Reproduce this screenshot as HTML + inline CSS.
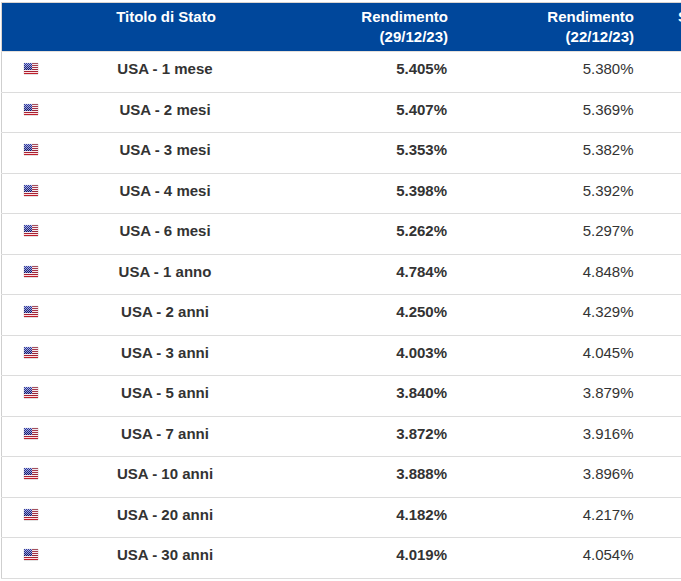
<!DOCTYPE html><html><head><meta charset="utf-8"><style>
*{margin:0;padding:0;box-sizing:border-box}
html,body{width:681px;height:581px;overflow:hidden;background:#fff}
body{position:relative;font-family:"Liberation Sans",sans-serif;font-size:15px;line-height:20px}
.a{position:absolute}
.hd{left:2px;top:3px;width:679px;height:48px;background:#00479b}
.ht{color:#fff;font-weight:bold;white-space:nowrap}
.hl{position:absolute;left:0;height:1px;width:681px}
.sep{background:#dcdcdc}
.vl{position:absolute;left:1px;width:1px;background:#cfcfcf}
.t{white-space:nowrap;color:#333}
.b{font-weight:bold}
.fl{position:absolute;left:23px}
</style></head><body>
<div class="a" style="left:1px;top:2px;width:680px;height:1px;background:#d9d4d0"></div>
<div class="a" style="left:1px;top:2px;width:1px;height:50px;background:#d9d4d0"></div>
<div class="a hd"></div>
<div class="a" style="left:1px;top:51px;width:680px;height:1px;background:#e6e0da"></div>
<div class="a ht" style="left:0;width:332px;top:7px;text-align:center">Titolo di Stato</div>
<div class="a ht" style="right:233px;top:7px;text-align:right">Rendimento<br>(29/12/23)</div>
<div class="a ht" style="right:47px;top:7px;text-align:right">Rendimento<br>(22/12/23)</div>
<div class="a" style="left:678px;top:7px;width:3px;height:20px;overflow:hidden"><div class="ht">Spread</div></div>
<div class="a" style="left:1px;top:52px;width:1px;height:527px;background:#cfcfcf"></div>
<div class="a sep" style="left:2px;top:92px;width:679px;height:1px"></div>
<div class="a" style="left:1px;top:92px;width:1px;height:1px;background:#e6e6e6"></div>
<div class="a" style="top:62px;left:0"><svg class="fl" width="16" height="13" viewBox="0 0 16 13" shape-rendering="crispEdges"><rect x="0" y="1" width="1" height="11" fill="#efefef"/><rect x="15" y="1" width="1" height="11" fill="#ececec"/><rect x="1" y="0" width="14" height="1" fill="#f6f6f6"/><rect x="1" y="12" width="14" height="1" fill="#e2e2e2"/><rect x="1" y="1" width="14" height="1" fill="#a4505e"/><rect x="1" y="2" width="14" height="1" fill="#f3e6ec"/><rect x="1" y="3" width="14" height="1" fill="#a63c4c"/><rect x="1" y="4" width="14" height="1" fill="#f6eaef"/><rect x="1" y="5" width="14" height="1" fill="#a43446"/><rect x="1" y="6" width="14" height="1" fill="#f6eaef"/><rect x="1" y="7" width="14" height="1" fill="#962a3a"/><rect x="1" y="8" width="14" height="1" fill="#f8eef2"/><rect x="1" y="9" width="14" height="1" fill="#a42232"/><rect x="1" y="10" width="14" height="1" fill="#fbdde1"/><rect x="1" y="11" width="14" height="1" fill="#bf1e2a"/><rect x="1" y="1" width="1" height="1" fill="#343c94"/><rect x="2" y="1" width="1" height="1" fill="#b0b8f2"/><rect x="3" y="1" width="1" height="1" fill="#343c94"/><rect x="4" y="1" width="1" height="1" fill="#b0b8f2"/><rect x="5" y="1" width="1" height="1" fill="#343c94"/><rect x="6" y="1" width="1" height="1" fill="#b0b8f2"/><rect x="7" y="1" width="1" height="1" fill="#343c94"/><rect x="8" y="1" width="1" height="1" fill="#b0b8f2"/><rect x="1" y="2" width="1" height="1" fill="#a9b1ed"/><rect x="2" y="2" width="1" height="1" fill="#2f368b"/><rect x="3" y="2" width="1" height="1" fill="#a9b1ed"/><rect x="4" y="2" width="1" height="1" fill="#2f368b"/><rect x="5" y="2" width="1" height="1" fill="#a9b1ed"/><rect x="6" y="2" width="1" height="1" fill="#2f368b"/><rect x="7" y="2" width="1" height="1" fill="#a9b1ed"/><rect x="8" y="2" width="1" height="1" fill="#2f368b"/><rect x="1" y="3" width="1" height="1" fill="#2a3181"/><rect x="2" y="3" width="1" height="1" fill="#a2aae8"/><rect x="3" y="3" width="1" height="1" fill="#2a3181"/><rect x="4" y="3" width="1" height="1" fill="#a2aae8"/><rect x="5" y="3" width="1" height="1" fill="#2a3181"/><rect x="6" y="3" width="1" height="1" fill="#a2aae8"/><rect x="7" y="3" width="1" height="1" fill="#2a3181"/><rect x="8" y="3" width="1" height="1" fill="#a2aae8"/><rect x="1" y="4" width="1" height="1" fill="#9ba3e3"/><rect x="2" y="4" width="1" height="1" fill="#252b78"/><rect x="3" y="4" width="1" height="1" fill="#9ba3e3"/><rect x="4" y="4" width="1" height="1" fill="#252b78"/><rect x="5" y="4" width="1" height="1" fill="#9ba3e3"/><rect x="6" y="4" width="1" height="1" fill="#252b78"/><rect x="7" y="4" width="1" height="1" fill="#9ba3e3"/><rect x="8" y="4" width="1" height="1" fill="#252b78"/><rect x="1" y="5" width="1" height="1" fill="#20256f"/><rect x="2" y="5" width="1" height="1" fill="#949cde"/><rect x="3" y="5" width="1" height="1" fill="#20256f"/><rect x="4" y="5" width="1" height="1" fill="#949cde"/><rect x="5" y="5" width="1" height="1" fill="#20256f"/><rect x="6" y="5" width="1" height="1" fill="#949cde"/><rect x="7" y="5" width="1" height="1" fill="#20256f"/><rect x="8" y="5" width="1" height="1" fill="#949cde"/><rect x="1" y="6" width="1" height="1" fill="#8d95d9"/><rect x="2" y="6" width="1" height="1" fill="#1b2065"/><rect x="3" y="6" width="1" height="1" fill="#8d95d9"/><rect x="4" y="6" width="1" height="1" fill="#1b2065"/><rect x="5" y="6" width="1" height="1" fill="#8d95d9"/><rect x="6" y="6" width="1" height="1" fill="#1b2065"/><rect x="7" y="6" width="1" height="1" fill="#8d95d9"/><rect x="8" y="6" width="1" height="1" fill="#1b2065"/><rect x="1" y="7" width="1" height="1" fill="#161a5c"/><rect x="2" y="7" width="1" height="1" fill="#868ed4"/><rect x="3" y="7" width="1" height="1" fill="#161a5c"/><rect x="4" y="7" width="1" height="1" fill="#868ed4"/><rect x="5" y="7" width="1" height="1" fill="#161a5c"/><rect x="6" y="7" width="1" height="1" fill="#868ed4"/><rect x="7" y="7" width="1" height="1" fill="#161a5c"/><rect x="8" y="7" width="1" height="1" fill="#868ed4"/></svg></div>
<div class="a t b" style="left:-1px;width:332px;text-align:center;top:59px">USA - 1 mese</div>
<div class="a t b" style="right:234px;text-align:right;top:59px">5.405%</div>
<div class="a t" style="right:47.5px;text-align:right;top:59px">5.380%</div>
<div class="a sep" style="left:2px;top:132px;width:679px;height:1px"></div>
<div class="a" style="left:1px;top:132px;width:1px;height:1px;background:#e6e6e6"></div>
<div class="a" style="top:103px;left:0"><svg class="fl" width="16" height="13" viewBox="0 0 16 13" shape-rendering="crispEdges"><rect x="0" y="1" width="1" height="11" fill="#efefef"/><rect x="15" y="1" width="1" height="11" fill="#ececec"/><rect x="1" y="0" width="14" height="1" fill="#f6f6f6"/><rect x="1" y="12" width="14" height="1" fill="#e2e2e2"/><rect x="1" y="1" width="14" height="1" fill="#a4505e"/><rect x="1" y="2" width="14" height="1" fill="#f3e6ec"/><rect x="1" y="3" width="14" height="1" fill="#a63c4c"/><rect x="1" y="4" width="14" height="1" fill="#f6eaef"/><rect x="1" y="5" width="14" height="1" fill="#a43446"/><rect x="1" y="6" width="14" height="1" fill="#f6eaef"/><rect x="1" y="7" width="14" height="1" fill="#962a3a"/><rect x="1" y="8" width="14" height="1" fill="#f8eef2"/><rect x="1" y="9" width="14" height="1" fill="#a42232"/><rect x="1" y="10" width="14" height="1" fill="#fbdde1"/><rect x="1" y="11" width="14" height="1" fill="#bf1e2a"/><rect x="1" y="1" width="1" height="1" fill="#343c94"/><rect x="2" y="1" width="1" height="1" fill="#b0b8f2"/><rect x="3" y="1" width="1" height="1" fill="#343c94"/><rect x="4" y="1" width="1" height="1" fill="#b0b8f2"/><rect x="5" y="1" width="1" height="1" fill="#343c94"/><rect x="6" y="1" width="1" height="1" fill="#b0b8f2"/><rect x="7" y="1" width="1" height="1" fill="#343c94"/><rect x="8" y="1" width="1" height="1" fill="#b0b8f2"/><rect x="1" y="2" width="1" height="1" fill="#a9b1ed"/><rect x="2" y="2" width="1" height="1" fill="#2f368b"/><rect x="3" y="2" width="1" height="1" fill="#a9b1ed"/><rect x="4" y="2" width="1" height="1" fill="#2f368b"/><rect x="5" y="2" width="1" height="1" fill="#a9b1ed"/><rect x="6" y="2" width="1" height="1" fill="#2f368b"/><rect x="7" y="2" width="1" height="1" fill="#a9b1ed"/><rect x="8" y="2" width="1" height="1" fill="#2f368b"/><rect x="1" y="3" width="1" height="1" fill="#2a3181"/><rect x="2" y="3" width="1" height="1" fill="#a2aae8"/><rect x="3" y="3" width="1" height="1" fill="#2a3181"/><rect x="4" y="3" width="1" height="1" fill="#a2aae8"/><rect x="5" y="3" width="1" height="1" fill="#2a3181"/><rect x="6" y="3" width="1" height="1" fill="#a2aae8"/><rect x="7" y="3" width="1" height="1" fill="#2a3181"/><rect x="8" y="3" width="1" height="1" fill="#a2aae8"/><rect x="1" y="4" width="1" height="1" fill="#9ba3e3"/><rect x="2" y="4" width="1" height="1" fill="#252b78"/><rect x="3" y="4" width="1" height="1" fill="#9ba3e3"/><rect x="4" y="4" width="1" height="1" fill="#252b78"/><rect x="5" y="4" width="1" height="1" fill="#9ba3e3"/><rect x="6" y="4" width="1" height="1" fill="#252b78"/><rect x="7" y="4" width="1" height="1" fill="#9ba3e3"/><rect x="8" y="4" width="1" height="1" fill="#252b78"/><rect x="1" y="5" width="1" height="1" fill="#20256f"/><rect x="2" y="5" width="1" height="1" fill="#949cde"/><rect x="3" y="5" width="1" height="1" fill="#20256f"/><rect x="4" y="5" width="1" height="1" fill="#949cde"/><rect x="5" y="5" width="1" height="1" fill="#20256f"/><rect x="6" y="5" width="1" height="1" fill="#949cde"/><rect x="7" y="5" width="1" height="1" fill="#20256f"/><rect x="8" y="5" width="1" height="1" fill="#949cde"/><rect x="1" y="6" width="1" height="1" fill="#8d95d9"/><rect x="2" y="6" width="1" height="1" fill="#1b2065"/><rect x="3" y="6" width="1" height="1" fill="#8d95d9"/><rect x="4" y="6" width="1" height="1" fill="#1b2065"/><rect x="5" y="6" width="1" height="1" fill="#8d95d9"/><rect x="6" y="6" width="1" height="1" fill="#1b2065"/><rect x="7" y="6" width="1" height="1" fill="#8d95d9"/><rect x="8" y="6" width="1" height="1" fill="#1b2065"/><rect x="1" y="7" width="1" height="1" fill="#161a5c"/><rect x="2" y="7" width="1" height="1" fill="#868ed4"/><rect x="3" y="7" width="1" height="1" fill="#161a5c"/><rect x="4" y="7" width="1" height="1" fill="#868ed4"/><rect x="5" y="7" width="1" height="1" fill="#161a5c"/><rect x="6" y="7" width="1" height="1" fill="#868ed4"/><rect x="7" y="7" width="1" height="1" fill="#161a5c"/><rect x="8" y="7" width="1" height="1" fill="#868ed4"/></svg></div>
<div class="a t b" style="left:-1px;width:332px;text-align:center;top:100px">USA - 2 mesi</div>
<div class="a t b" style="right:234px;text-align:right;top:100px">5.407%</div>
<div class="a t" style="right:47.5px;text-align:right;top:100px">5.369%</div>
<div class="a sep" style="left:2px;top:173px;width:679px;height:1px"></div>
<div class="a" style="left:1px;top:173px;width:1px;height:1px;background:#e6e6e6"></div>
<div class="a" style="top:143px;left:0"><svg class="fl" width="16" height="13" viewBox="0 0 16 13" shape-rendering="crispEdges"><rect x="0" y="1" width="1" height="11" fill="#efefef"/><rect x="15" y="1" width="1" height="11" fill="#ececec"/><rect x="1" y="0" width="14" height="1" fill="#f6f6f6"/><rect x="1" y="12" width="14" height="1" fill="#e2e2e2"/><rect x="1" y="1" width="14" height="1" fill="#a4505e"/><rect x="1" y="2" width="14" height="1" fill="#f3e6ec"/><rect x="1" y="3" width="14" height="1" fill="#a63c4c"/><rect x="1" y="4" width="14" height="1" fill="#f6eaef"/><rect x="1" y="5" width="14" height="1" fill="#a43446"/><rect x="1" y="6" width="14" height="1" fill="#f6eaef"/><rect x="1" y="7" width="14" height="1" fill="#962a3a"/><rect x="1" y="8" width="14" height="1" fill="#f8eef2"/><rect x="1" y="9" width="14" height="1" fill="#a42232"/><rect x="1" y="10" width="14" height="1" fill="#fbdde1"/><rect x="1" y="11" width="14" height="1" fill="#bf1e2a"/><rect x="1" y="1" width="1" height="1" fill="#343c94"/><rect x="2" y="1" width="1" height="1" fill="#b0b8f2"/><rect x="3" y="1" width="1" height="1" fill="#343c94"/><rect x="4" y="1" width="1" height="1" fill="#b0b8f2"/><rect x="5" y="1" width="1" height="1" fill="#343c94"/><rect x="6" y="1" width="1" height="1" fill="#b0b8f2"/><rect x="7" y="1" width="1" height="1" fill="#343c94"/><rect x="8" y="1" width="1" height="1" fill="#b0b8f2"/><rect x="1" y="2" width="1" height="1" fill="#a9b1ed"/><rect x="2" y="2" width="1" height="1" fill="#2f368b"/><rect x="3" y="2" width="1" height="1" fill="#a9b1ed"/><rect x="4" y="2" width="1" height="1" fill="#2f368b"/><rect x="5" y="2" width="1" height="1" fill="#a9b1ed"/><rect x="6" y="2" width="1" height="1" fill="#2f368b"/><rect x="7" y="2" width="1" height="1" fill="#a9b1ed"/><rect x="8" y="2" width="1" height="1" fill="#2f368b"/><rect x="1" y="3" width="1" height="1" fill="#2a3181"/><rect x="2" y="3" width="1" height="1" fill="#a2aae8"/><rect x="3" y="3" width="1" height="1" fill="#2a3181"/><rect x="4" y="3" width="1" height="1" fill="#a2aae8"/><rect x="5" y="3" width="1" height="1" fill="#2a3181"/><rect x="6" y="3" width="1" height="1" fill="#a2aae8"/><rect x="7" y="3" width="1" height="1" fill="#2a3181"/><rect x="8" y="3" width="1" height="1" fill="#a2aae8"/><rect x="1" y="4" width="1" height="1" fill="#9ba3e3"/><rect x="2" y="4" width="1" height="1" fill="#252b78"/><rect x="3" y="4" width="1" height="1" fill="#9ba3e3"/><rect x="4" y="4" width="1" height="1" fill="#252b78"/><rect x="5" y="4" width="1" height="1" fill="#9ba3e3"/><rect x="6" y="4" width="1" height="1" fill="#252b78"/><rect x="7" y="4" width="1" height="1" fill="#9ba3e3"/><rect x="8" y="4" width="1" height="1" fill="#252b78"/><rect x="1" y="5" width="1" height="1" fill="#20256f"/><rect x="2" y="5" width="1" height="1" fill="#949cde"/><rect x="3" y="5" width="1" height="1" fill="#20256f"/><rect x="4" y="5" width="1" height="1" fill="#949cde"/><rect x="5" y="5" width="1" height="1" fill="#20256f"/><rect x="6" y="5" width="1" height="1" fill="#949cde"/><rect x="7" y="5" width="1" height="1" fill="#20256f"/><rect x="8" y="5" width="1" height="1" fill="#949cde"/><rect x="1" y="6" width="1" height="1" fill="#8d95d9"/><rect x="2" y="6" width="1" height="1" fill="#1b2065"/><rect x="3" y="6" width="1" height="1" fill="#8d95d9"/><rect x="4" y="6" width="1" height="1" fill="#1b2065"/><rect x="5" y="6" width="1" height="1" fill="#8d95d9"/><rect x="6" y="6" width="1" height="1" fill="#1b2065"/><rect x="7" y="6" width="1" height="1" fill="#8d95d9"/><rect x="8" y="6" width="1" height="1" fill="#1b2065"/><rect x="1" y="7" width="1" height="1" fill="#161a5c"/><rect x="2" y="7" width="1" height="1" fill="#868ed4"/><rect x="3" y="7" width="1" height="1" fill="#161a5c"/><rect x="4" y="7" width="1" height="1" fill="#868ed4"/><rect x="5" y="7" width="1" height="1" fill="#161a5c"/><rect x="6" y="7" width="1" height="1" fill="#868ed4"/><rect x="7" y="7" width="1" height="1" fill="#161a5c"/><rect x="8" y="7" width="1" height="1" fill="#868ed4"/></svg></div>
<div class="a t b" style="left:-1px;width:332px;text-align:center;top:140px">USA - 3 mesi</div>
<div class="a t b" style="right:234px;text-align:right;top:140px">5.353%</div>
<div class="a t" style="right:47.5px;text-align:right;top:140px">5.382%</div>
<div class="a sep" style="left:2px;top:213px;width:679px;height:1px"></div>
<div class="a" style="left:1px;top:213px;width:1px;height:1px;background:#e6e6e6"></div>
<div class="a" style="top:184px;left:0"><svg class="fl" width="16" height="13" viewBox="0 0 16 13" shape-rendering="crispEdges"><rect x="0" y="1" width="1" height="11" fill="#efefef"/><rect x="15" y="1" width="1" height="11" fill="#ececec"/><rect x="1" y="0" width="14" height="1" fill="#f6f6f6"/><rect x="1" y="12" width="14" height="1" fill="#e2e2e2"/><rect x="1" y="1" width="14" height="1" fill="#a4505e"/><rect x="1" y="2" width="14" height="1" fill="#f3e6ec"/><rect x="1" y="3" width="14" height="1" fill="#a63c4c"/><rect x="1" y="4" width="14" height="1" fill="#f6eaef"/><rect x="1" y="5" width="14" height="1" fill="#a43446"/><rect x="1" y="6" width="14" height="1" fill="#f6eaef"/><rect x="1" y="7" width="14" height="1" fill="#962a3a"/><rect x="1" y="8" width="14" height="1" fill="#f8eef2"/><rect x="1" y="9" width="14" height="1" fill="#a42232"/><rect x="1" y="10" width="14" height="1" fill="#fbdde1"/><rect x="1" y="11" width="14" height="1" fill="#bf1e2a"/><rect x="1" y="1" width="1" height="1" fill="#343c94"/><rect x="2" y="1" width="1" height="1" fill="#b0b8f2"/><rect x="3" y="1" width="1" height="1" fill="#343c94"/><rect x="4" y="1" width="1" height="1" fill="#b0b8f2"/><rect x="5" y="1" width="1" height="1" fill="#343c94"/><rect x="6" y="1" width="1" height="1" fill="#b0b8f2"/><rect x="7" y="1" width="1" height="1" fill="#343c94"/><rect x="8" y="1" width="1" height="1" fill="#b0b8f2"/><rect x="1" y="2" width="1" height="1" fill="#a9b1ed"/><rect x="2" y="2" width="1" height="1" fill="#2f368b"/><rect x="3" y="2" width="1" height="1" fill="#a9b1ed"/><rect x="4" y="2" width="1" height="1" fill="#2f368b"/><rect x="5" y="2" width="1" height="1" fill="#a9b1ed"/><rect x="6" y="2" width="1" height="1" fill="#2f368b"/><rect x="7" y="2" width="1" height="1" fill="#a9b1ed"/><rect x="8" y="2" width="1" height="1" fill="#2f368b"/><rect x="1" y="3" width="1" height="1" fill="#2a3181"/><rect x="2" y="3" width="1" height="1" fill="#a2aae8"/><rect x="3" y="3" width="1" height="1" fill="#2a3181"/><rect x="4" y="3" width="1" height="1" fill="#a2aae8"/><rect x="5" y="3" width="1" height="1" fill="#2a3181"/><rect x="6" y="3" width="1" height="1" fill="#a2aae8"/><rect x="7" y="3" width="1" height="1" fill="#2a3181"/><rect x="8" y="3" width="1" height="1" fill="#a2aae8"/><rect x="1" y="4" width="1" height="1" fill="#9ba3e3"/><rect x="2" y="4" width="1" height="1" fill="#252b78"/><rect x="3" y="4" width="1" height="1" fill="#9ba3e3"/><rect x="4" y="4" width="1" height="1" fill="#252b78"/><rect x="5" y="4" width="1" height="1" fill="#9ba3e3"/><rect x="6" y="4" width="1" height="1" fill="#252b78"/><rect x="7" y="4" width="1" height="1" fill="#9ba3e3"/><rect x="8" y="4" width="1" height="1" fill="#252b78"/><rect x="1" y="5" width="1" height="1" fill="#20256f"/><rect x="2" y="5" width="1" height="1" fill="#949cde"/><rect x="3" y="5" width="1" height="1" fill="#20256f"/><rect x="4" y="5" width="1" height="1" fill="#949cde"/><rect x="5" y="5" width="1" height="1" fill="#20256f"/><rect x="6" y="5" width="1" height="1" fill="#949cde"/><rect x="7" y="5" width="1" height="1" fill="#20256f"/><rect x="8" y="5" width="1" height="1" fill="#949cde"/><rect x="1" y="6" width="1" height="1" fill="#8d95d9"/><rect x="2" y="6" width="1" height="1" fill="#1b2065"/><rect x="3" y="6" width="1" height="1" fill="#8d95d9"/><rect x="4" y="6" width="1" height="1" fill="#1b2065"/><rect x="5" y="6" width="1" height="1" fill="#8d95d9"/><rect x="6" y="6" width="1" height="1" fill="#1b2065"/><rect x="7" y="6" width="1" height="1" fill="#8d95d9"/><rect x="8" y="6" width="1" height="1" fill="#1b2065"/><rect x="1" y="7" width="1" height="1" fill="#161a5c"/><rect x="2" y="7" width="1" height="1" fill="#868ed4"/><rect x="3" y="7" width="1" height="1" fill="#161a5c"/><rect x="4" y="7" width="1" height="1" fill="#868ed4"/><rect x="5" y="7" width="1" height="1" fill="#161a5c"/><rect x="6" y="7" width="1" height="1" fill="#868ed4"/><rect x="7" y="7" width="1" height="1" fill="#161a5c"/><rect x="8" y="7" width="1" height="1" fill="#868ed4"/></svg></div>
<div class="a t b" style="left:-1px;width:332px;text-align:center;top:181px">USA - 4 mesi</div>
<div class="a t b" style="right:234px;text-align:right;top:181px">5.398%</div>
<div class="a t" style="right:47.5px;text-align:right;top:181px">5.392%</div>
<div class="a sep" style="left:2px;top:254px;width:679px;height:1px"></div>
<div class="a" style="left:1px;top:254px;width:1px;height:1px;background:#e6e6e6"></div>
<div class="a" style="top:224px;left:0"><svg class="fl" width="16" height="13" viewBox="0 0 16 13" shape-rendering="crispEdges"><rect x="0" y="1" width="1" height="11" fill="#efefef"/><rect x="15" y="1" width="1" height="11" fill="#ececec"/><rect x="1" y="0" width="14" height="1" fill="#f6f6f6"/><rect x="1" y="12" width="14" height="1" fill="#e2e2e2"/><rect x="1" y="1" width="14" height="1" fill="#a4505e"/><rect x="1" y="2" width="14" height="1" fill="#f3e6ec"/><rect x="1" y="3" width="14" height="1" fill="#a63c4c"/><rect x="1" y="4" width="14" height="1" fill="#f6eaef"/><rect x="1" y="5" width="14" height="1" fill="#a43446"/><rect x="1" y="6" width="14" height="1" fill="#f6eaef"/><rect x="1" y="7" width="14" height="1" fill="#962a3a"/><rect x="1" y="8" width="14" height="1" fill="#f8eef2"/><rect x="1" y="9" width="14" height="1" fill="#a42232"/><rect x="1" y="10" width="14" height="1" fill="#fbdde1"/><rect x="1" y="11" width="14" height="1" fill="#bf1e2a"/><rect x="1" y="1" width="1" height="1" fill="#343c94"/><rect x="2" y="1" width="1" height="1" fill="#b0b8f2"/><rect x="3" y="1" width="1" height="1" fill="#343c94"/><rect x="4" y="1" width="1" height="1" fill="#b0b8f2"/><rect x="5" y="1" width="1" height="1" fill="#343c94"/><rect x="6" y="1" width="1" height="1" fill="#b0b8f2"/><rect x="7" y="1" width="1" height="1" fill="#343c94"/><rect x="8" y="1" width="1" height="1" fill="#b0b8f2"/><rect x="1" y="2" width="1" height="1" fill="#a9b1ed"/><rect x="2" y="2" width="1" height="1" fill="#2f368b"/><rect x="3" y="2" width="1" height="1" fill="#a9b1ed"/><rect x="4" y="2" width="1" height="1" fill="#2f368b"/><rect x="5" y="2" width="1" height="1" fill="#a9b1ed"/><rect x="6" y="2" width="1" height="1" fill="#2f368b"/><rect x="7" y="2" width="1" height="1" fill="#a9b1ed"/><rect x="8" y="2" width="1" height="1" fill="#2f368b"/><rect x="1" y="3" width="1" height="1" fill="#2a3181"/><rect x="2" y="3" width="1" height="1" fill="#a2aae8"/><rect x="3" y="3" width="1" height="1" fill="#2a3181"/><rect x="4" y="3" width="1" height="1" fill="#a2aae8"/><rect x="5" y="3" width="1" height="1" fill="#2a3181"/><rect x="6" y="3" width="1" height="1" fill="#a2aae8"/><rect x="7" y="3" width="1" height="1" fill="#2a3181"/><rect x="8" y="3" width="1" height="1" fill="#a2aae8"/><rect x="1" y="4" width="1" height="1" fill="#9ba3e3"/><rect x="2" y="4" width="1" height="1" fill="#252b78"/><rect x="3" y="4" width="1" height="1" fill="#9ba3e3"/><rect x="4" y="4" width="1" height="1" fill="#252b78"/><rect x="5" y="4" width="1" height="1" fill="#9ba3e3"/><rect x="6" y="4" width="1" height="1" fill="#252b78"/><rect x="7" y="4" width="1" height="1" fill="#9ba3e3"/><rect x="8" y="4" width="1" height="1" fill="#252b78"/><rect x="1" y="5" width="1" height="1" fill="#20256f"/><rect x="2" y="5" width="1" height="1" fill="#949cde"/><rect x="3" y="5" width="1" height="1" fill="#20256f"/><rect x="4" y="5" width="1" height="1" fill="#949cde"/><rect x="5" y="5" width="1" height="1" fill="#20256f"/><rect x="6" y="5" width="1" height="1" fill="#949cde"/><rect x="7" y="5" width="1" height="1" fill="#20256f"/><rect x="8" y="5" width="1" height="1" fill="#949cde"/><rect x="1" y="6" width="1" height="1" fill="#8d95d9"/><rect x="2" y="6" width="1" height="1" fill="#1b2065"/><rect x="3" y="6" width="1" height="1" fill="#8d95d9"/><rect x="4" y="6" width="1" height="1" fill="#1b2065"/><rect x="5" y="6" width="1" height="1" fill="#8d95d9"/><rect x="6" y="6" width="1" height="1" fill="#1b2065"/><rect x="7" y="6" width="1" height="1" fill="#8d95d9"/><rect x="8" y="6" width="1" height="1" fill="#1b2065"/><rect x="1" y="7" width="1" height="1" fill="#161a5c"/><rect x="2" y="7" width="1" height="1" fill="#868ed4"/><rect x="3" y="7" width="1" height="1" fill="#161a5c"/><rect x="4" y="7" width="1" height="1" fill="#868ed4"/><rect x="5" y="7" width="1" height="1" fill="#161a5c"/><rect x="6" y="7" width="1" height="1" fill="#868ed4"/><rect x="7" y="7" width="1" height="1" fill="#161a5c"/><rect x="8" y="7" width="1" height="1" fill="#868ed4"/></svg></div>
<div class="a t b" style="left:-1px;width:332px;text-align:center;top:221px">USA - 6 mesi</div>
<div class="a t b" style="right:234px;text-align:right;top:221px">5.262%</div>
<div class="a t" style="right:47.5px;text-align:right;top:221px">5.297%</div>
<div class="a sep" style="left:2px;top:294px;width:679px;height:1px"></div>
<div class="a" style="left:1px;top:294px;width:1px;height:1px;background:#e6e6e6"></div>
<div class="a" style="top:265px;left:0"><svg class="fl" width="16" height="13" viewBox="0 0 16 13" shape-rendering="crispEdges"><rect x="0" y="1" width="1" height="11" fill="#efefef"/><rect x="15" y="1" width="1" height="11" fill="#ececec"/><rect x="1" y="0" width="14" height="1" fill="#f6f6f6"/><rect x="1" y="12" width="14" height="1" fill="#e2e2e2"/><rect x="1" y="1" width="14" height="1" fill="#a4505e"/><rect x="1" y="2" width="14" height="1" fill="#f3e6ec"/><rect x="1" y="3" width="14" height="1" fill="#a63c4c"/><rect x="1" y="4" width="14" height="1" fill="#f6eaef"/><rect x="1" y="5" width="14" height="1" fill="#a43446"/><rect x="1" y="6" width="14" height="1" fill="#f6eaef"/><rect x="1" y="7" width="14" height="1" fill="#962a3a"/><rect x="1" y="8" width="14" height="1" fill="#f8eef2"/><rect x="1" y="9" width="14" height="1" fill="#a42232"/><rect x="1" y="10" width="14" height="1" fill="#fbdde1"/><rect x="1" y="11" width="14" height="1" fill="#bf1e2a"/><rect x="1" y="1" width="1" height="1" fill="#343c94"/><rect x="2" y="1" width="1" height="1" fill="#b0b8f2"/><rect x="3" y="1" width="1" height="1" fill="#343c94"/><rect x="4" y="1" width="1" height="1" fill="#b0b8f2"/><rect x="5" y="1" width="1" height="1" fill="#343c94"/><rect x="6" y="1" width="1" height="1" fill="#b0b8f2"/><rect x="7" y="1" width="1" height="1" fill="#343c94"/><rect x="8" y="1" width="1" height="1" fill="#b0b8f2"/><rect x="1" y="2" width="1" height="1" fill="#a9b1ed"/><rect x="2" y="2" width="1" height="1" fill="#2f368b"/><rect x="3" y="2" width="1" height="1" fill="#a9b1ed"/><rect x="4" y="2" width="1" height="1" fill="#2f368b"/><rect x="5" y="2" width="1" height="1" fill="#a9b1ed"/><rect x="6" y="2" width="1" height="1" fill="#2f368b"/><rect x="7" y="2" width="1" height="1" fill="#a9b1ed"/><rect x="8" y="2" width="1" height="1" fill="#2f368b"/><rect x="1" y="3" width="1" height="1" fill="#2a3181"/><rect x="2" y="3" width="1" height="1" fill="#a2aae8"/><rect x="3" y="3" width="1" height="1" fill="#2a3181"/><rect x="4" y="3" width="1" height="1" fill="#a2aae8"/><rect x="5" y="3" width="1" height="1" fill="#2a3181"/><rect x="6" y="3" width="1" height="1" fill="#a2aae8"/><rect x="7" y="3" width="1" height="1" fill="#2a3181"/><rect x="8" y="3" width="1" height="1" fill="#a2aae8"/><rect x="1" y="4" width="1" height="1" fill="#9ba3e3"/><rect x="2" y="4" width="1" height="1" fill="#252b78"/><rect x="3" y="4" width="1" height="1" fill="#9ba3e3"/><rect x="4" y="4" width="1" height="1" fill="#252b78"/><rect x="5" y="4" width="1" height="1" fill="#9ba3e3"/><rect x="6" y="4" width="1" height="1" fill="#252b78"/><rect x="7" y="4" width="1" height="1" fill="#9ba3e3"/><rect x="8" y="4" width="1" height="1" fill="#252b78"/><rect x="1" y="5" width="1" height="1" fill="#20256f"/><rect x="2" y="5" width="1" height="1" fill="#949cde"/><rect x="3" y="5" width="1" height="1" fill="#20256f"/><rect x="4" y="5" width="1" height="1" fill="#949cde"/><rect x="5" y="5" width="1" height="1" fill="#20256f"/><rect x="6" y="5" width="1" height="1" fill="#949cde"/><rect x="7" y="5" width="1" height="1" fill="#20256f"/><rect x="8" y="5" width="1" height="1" fill="#949cde"/><rect x="1" y="6" width="1" height="1" fill="#8d95d9"/><rect x="2" y="6" width="1" height="1" fill="#1b2065"/><rect x="3" y="6" width="1" height="1" fill="#8d95d9"/><rect x="4" y="6" width="1" height="1" fill="#1b2065"/><rect x="5" y="6" width="1" height="1" fill="#8d95d9"/><rect x="6" y="6" width="1" height="1" fill="#1b2065"/><rect x="7" y="6" width="1" height="1" fill="#8d95d9"/><rect x="8" y="6" width="1" height="1" fill="#1b2065"/><rect x="1" y="7" width="1" height="1" fill="#161a5c"/><rect x="2" y="7" width="1" height="1" fill="#868ed4"/><rect x="3" y="7" width="1" height="1" fill="#161a5c"/><rect x="4" y="7" width="1" height="1" fill="#868ed4"/><rect x="5" y="7" width="1" height="1" fill="#161a5c"/><rect x="6" y="7" width="1" height="1" fill="#868ed4"/><rect x="7" y="7" width="1" height="1" fill="#161a5c"/><rect x="8" y="7" width="1" height="1" fill="#868ed4"/></svg></div>
<div class="a t b" style="left:-1px;width:332px;text-align:center;top:262px">USA - 1 anno</div>
<div class="a t b" style="right:234px;text-align:right;top:262px">4.784%</div>
<div class="a t" style="right:47.5px;text-align:right;top:262px">4.848%</div>
<div class="a sep" style="left:2px;top:335px;width:679px;height:1px"></div>
<div class="a" style="left:1px;top:335px;width:1px;height:1px;background:#e6e6e6"></div>
<div class="a" style="top:305px;left:0"><svg class="fl" width="16" height="13" viewBox="0 0 16 13" shape-rendering="crispEdges"><rect x="0" y="1" width="1" height="11" fill="#efefef"/><rect x="15" y="1" width="1" height="11" fill="#ececec"/><rect x="1" y="0" width="14" height="1" fill="#f6f6f6"/><rect x="1" y="12" width="14" height="1" fill="#e2e2e2"/><rect x="1" y="1" width="14" height="1" fill="#a4505e"/><rect x="1" y="2" width="14" height="1" fill="#f3e6ec"/><rect x="1" y="3" width="14" height="1" fill="#a63c4c"/><rect x="1" y="4" width="14" height="1" fill="#f6eaef"/><rect x="1" y="5" width="14" height="1" fill="#a43446"/><rect x="1" y="6" width="14" height="1" fill="#f6eaef"/><rect x="1" y="7" width="14" height="1" fill="#962a3a"/><rect x="1" y="8" width="14" height="1" fill="#f8eef2"/><rect x="1" y="9" width="14" height="1" fill="#a42232"/><rect x="1" y="10" width="14" height="1" fill="#fbdde1"/><rect x="1" y="11" width="14" height="1" fill="#bf1e2a"/><rect x="1" y="1" width="1" height="1" fill="#343c94"/><rect x="2" y="1" width="1" height="1" fill="#b0b8f2"/><rect x="3" y="1" width="1" height="1" fill="#343c94"/><rect x="4" y="1" width="1" height="1" fill="#b0b8f2"/><rect x="5" y="1" width="1" height="1" fill="#343c94"/><rect x="6" y="1" width="1" height="1" fill="#b0b8f2"/><rect x="7" y="1" width="1" height="1" fill="#343c94"/><rect x="8" y="1" width="1" height="1" fill="#b0b8f2"/><rect x="1" y="2" width="1" height="1" fill="#a9b1ed"/><rect x="2" y="2" width="1" height="1" fill="#2f368b"/><rect x="3" y="2" width="1" height="1" fill="#a9b1ed"/><rect x="4" y="2" width="1" height="1" fill="#2f368b"/><rect x="5" y="2" width="1" height="1" fill="#a9b1ed"/><rect x="6" y="2" width="1" height="1" fill="#2f368b"/><rect x="7" y="2" width="1" height="1" fill="#a9b1ed"/><rect x="8" y="2" width="1" height="1" fill="#2f368b"/><rect x="1" y="3" width="1" height="1" fill="#2a3181"/><rect x="2" y="3" width="1" height="1" fill="#a2aae8"/><rect x="3" y="3" width="1" height="1" fill="#2a3181"/><rect x="4" y="3" width="1" height="1" fill="#a2aae8"/><rect x="5" y="3" width="1" height="1" fill="#2a3181"/><rect x="6" y="3" width="1" height="1" fill="#a2aae8"/><rect x="7" y="3" width="1" height="1" fill="#2a3181"/><rect x="8" y="3" width="1" height="1" fill="#a2aae8"/><rect x="1" y="4" width="1" height="1" fill="#9ba3e3"/><rect x="2" y="4" width="1" height="1" fill="#252b78"/><rect x="3" y="4" width="1" height="1" fill="#9ba3e3"/><rect x="4" y="4" width="1" height="1" fill="#252b78"/><rect x="5" y="4" width="1" height="1" fill="#9ba3e3"/><rect x="6" y="4" width="1" height="1" fill="#252b78"/><rect x="7" y="4" width="1" height="1" fill="#9ba3e3"/><rect x="8" y="4" width="1" height="1" fill="#252b78"/><rect x="1" y="5" width="1" height="1" fill="#20256f"/><rect x="2" y="5" width="1" height="1" fill="#949cde"/><rect x="3" y="5" width="1" height="1" fill="#20256f"/><rect x="4" y="5" width="1" height="1" fill="#949cde"/><rect x="5" y="5" width="1" height="1" fill="#20256f"/><rect x="6" y="5" width="1" height="1" fill="#949cde"/><rect x="7" y="5" width="1" height="1" fill="#20256f"/><rect x="8" y="5" width="1" height="1" fill="#949cde"/><rect x="1" y="6" width="1" height="1" fill="#8d95d9"/><rect x="2" y="6" width="1" height="1" fill="#1b2065"/><rect x="3" y="6" width="1" height="1" fill="#8d95d9"/><rect x="4" y="6" width="1" height="1" fill="#1b2065"/><rect x="5" y="6" width="1" height="1" fill="#8d95d9"/><rect x="6" y="6" width="1" height="1" fill="#1b2065"/><rect x="7" y="6" width="1" height="1" fill="#8d95d9"/><rect x="8" y="6" width="1" height="1" fill="#1b2065"/><rect x="1" y="7" width="1" height="1" fill="#161a5c"/><rect x="2" y="7" width="1" height="1" fill="#868ed4"/><rect x="3" y="7" width="1" height="1" fill="#161a5c"/><rect x="4" y="7" width="1" height="1" fill="#868ed4"/><rect x="5" y="7" width="1" height="1" fill="#161a5c"/><rect x="6" y="7" width="1" height="1" fill="#868ed4"/><rect x="7" y="7" width="1" height="1" fill="#161a5c"/><rect x="8" y="7" width="1" height="1" fill="#868ed4"/></svg></div>
<div class="a t b" style="left:-1px;width:332px;text-align:center;top:302px">USA - 2 anni</div>
<div class="a t b" style="right:234px;text-align:right;top:302px">4.250%</div>
<div class="a t" style="right:47.5px;text-align:right;top:302px">4.329%</div>
<div class="a sep" style="left:2px;top:375px;width:679px;height:1px"></div>
<div class="a" style="left:1px;top:375px;width:1px;height:1px;background:#e6e6e6"></div>
<div class="a" style="top:346px;left:0"><svg class="fl" width="16" height="13" viewBox="0 0 16 13" shape-rendering="crispEdges"><rect x="0" y="1" width="1" height="11" fill="#efefef"/><rect x="15" y="1" width="1" height="11" fill="#ececec"/><rect x="1" y="0" width="14" height="1" fill="#f6f6f6"/><rect x="1" y="12" width="14" height="1" fill="#e2e2e2"/><rect x="1" y="1" width="14" height="1" fill="#a4505e"/><rect x="1" y="2" width="14" height="1" fill="#f3e6ec"/><rect x="1" y="3" width="14" height="1" fill="#a63c4c"/><rect x="1" y="4" width="14" height="1" fill="#f6eaef"/><rect x="1" y="5" width="14" height="1" fill="#a43446"/><rect x="1" y="6" width="14" height="1" fill="#f6eaef"/><rect x="1" y="7" width="14" height="1" fill="#962a3a"/><rect x="1" y="8" width="14" height="1" fill="#f8eef2"/><rect x="1" y="9" width="14" height="1" fill="#a42232"/><rect x="1" y="10" width="14" height="1" fill="#fbdde1"/><rect x="1" y="11" width="14" height="1" fill="#bf1e2a"/><rect x="1" y="1" width="1" height="1" fill="#343c94"/><rect x="2" y="1" width="1" height="1" fill="#b0b8f2"/><rect x="3" y="1" width="1" height="1" fill="#343c94"/><rect x="4" y="1" width="1" height="1" fill="#b0b8f2"/><rect x="5" y="1" width="1" height="1" fill="#343c94"/><rect x="6" y="1" width="1" height="1" fill="#b0b8f2"/><rect x="7" y="1" width="1" height="1" fill="#343c94"/><rect x="8" y="1" width="1" height="1" fill="#b0b8f2"/><rect x="1" y="2" width="1" height="1" fill="#a9b1ed"/><rect x="2" y="2" width="1" height="1" fill="#2f368b"/><rect x="3" y="2" width="1" height="1" fill="#a9b1ed"/><rect x="4" y="2" width="1" height="1" fill="#2f368b"/><rect x="5" y="2" width="1" height="1" fill="#a9b1ed"/><rect x="6" y="2" width="1" height="1" fill="#2f368b"/><rect x="7" y="2" width="1" height="1" fill="#a9b1ed"/><rect x="8" y="2" width="1" height="1" fill="#2f368b"/><rect x="1" y="3" width="1" height="1" fill="#2a3181"/><rect x="2" y="3" width="1" height="1" fill="#a2aae8"/><rect x="3" y="3" width="1" height="1" fill="#2a3181"/><rect x="4" y="3" width="1" height="1" fill="#a2aae8"/><rect x="5" y="3" width="1" height="1" fill="#2a3181"/><rect x="6" y="3" width="1" height="1" fill="#a2aae8"/><rect x="7" y="3" width="1" height="1" fill="#2a3181"/><rect x="8" y="3" width="1" height="1" fill="#a2aae8"/><rect x="1" y="4" width="1" height="1" fill="#9ba3e3"/><rect x="2" y="4" width="1" height="1" fill="#252b78"/><rect x="3" y="4" width="1" height="1" fill="#9ba3e3"/><rect x="4" y="4" width="1" height="1" fill="#252b78"/><rect x="5" y="4" width="1" height="1" fill="#9ba3e3"/><rect x="6" y="4" width="1" height="1" fill="#252b78"/><rect x="7" y="4" width="1" height="1" fill="#9ba3e3"/><rect x="8" y="4" width="1" height="1" fill="#252b78"/><rect x="1" y="5" width="1" height="1" fill="#20256f"/><rect x="2" y="5" width="1" height="1" fill="#949cde"/><rect x="3" y="5" width="1" height="1" fill="#20256f"/><rect x="4" y="5" width="1" height="1" fill="#949cde"/><rect x="5" y="5" width="1" height="1" fill="#20256f"/><rect x="6" y="5" width="1" height="1" fill="#949cde"/><rect x="7" y="5" width="1" height="1" fill="#20256f"/><rect x="8" y="5" width="1" height="1" fill="#949cde"/><rect x="1" y="6" width="1" height="1" fill="#8d95d9"/><rect x="2" y="6" width="1" height="1" fill="#1b2065"/><rect x="3" y="6" width="1" height="1" fill="#8d95d9"/><rect x="4" y="6" width="1" height="1" fill="#1b2065"/><rect x="5" y="6" width="1" height="1" fill="#8d95d9"/><rect x="6" y="6" width="1" height="1" fill="#1b2065"/><rect x="7" y="6" width="1" height="1" fill="#8d95d9"/><rect x="8" y="6" width="1" height="1" fill="#1b2065"/><rect x="1" y="7" width="1" height="1" fill="#161a5c"/><rect x="2" y="7" width="1" height="1" fill="#868ed4"/><rect x="3" y="7" width="1" height="1" fill="#161a5c"/><rect x="4" y="7" width="1" height="1" fill="#868ed4"/><rect x="5" y="7" width="1" height="1" fill="#161a5c"/><rect x="6" y="7" width="1" height="1" fill="#868ed4"/><rect x="7" y="7" width="1" height="1" fill="#161a5c"/><rect x="8" y="7" width="1" height="1" fill="#868ed4"/></svg></div>
<div class="a t b" style="left:-1px;width:332px;text-align:center;top:343px">USA - 3 anni</div>
<div class="a t b" style="right:234px;text-align:right;top:343px">4.003%</div>
<div class="a t" style="right:47.5px;text-align:right;top:343px">4.045%</div>
<div class="a sep" style="left:2px;top:416px;width:679px;height:1px"></div>
<div class="a" style="left:1px;top:416px;width:1px;height:1px;background:#e6e6e6"></div>
<div class="a" style="top:386px;left:0"><svg class="fl" width="16" height="13" viewBox="0 0 16 13" shape-rendering="crispEdges"><rect x="0" y="1" width="1" height="11" fill="#efefef"/><rect x="15" y="1" width="1" height="11" fill="#ececec"/><rect x="1" y="0" width="14" height="1" fill="#f6f6f6"/><rect x="1" y="12" width="14" height="1" fill="#e2e2e2"/><rect x="1" y="1" width="14" height="1" fill="#a4505e"/><rect x="1" y="2" width="14" height="1" fill="#f3e6ec"/><rect x="1" y="3" width="14" height="1" fill="#a63c4c"/><rect x="1" y="4" width="14" height="1" fill="#f6eaef"/><rect x="1" y="5" width="14" height="1" fill="#a43446"/><rect x="1" y="6" width="14" height="1" fill="#f6eaef"/><rect x="1" y="7" width="14" height="1" fill="#962a3a"/><rect x="1" y="8" width="14" height="1" fill="#f8eef2"/><rect x="1" y="9" width="14" height="1" fill="#a42232"/><rect x="1" y="10" width="14" height="1" fill="#fbdde1"/><rect x="1" y="11" width="14" height="1" fill="#bf1e2a"/><rect x="1" y="1" width="1" height="1" fill="#343c94"/><rect x="2" y="1" width="1" height="1" fill="#b0b8f2"/><rect x="3" y="1" width="1" height="1" fill="#343c94"/><rect x="4" y="1" width="1" height="1" fill="#b0b8f2"/><rect x="5" y="1" width="1" height="1" fill="#343c94"/><rect x="6" y="1" width="1" height="1" fill="#b0b8f2"/><rect x="7" y="1" width="1" height="1" fill="#343c94"/><rect x="8" y="1" width="1" height="1" fill="#b0b8f2"/><rect x="1" y="2" width="1" height="1" fill="#a9b1ed"/><rect x="2" y="2" width="1" height="1" fill="#2f368b"/><rect x="3" y="2" width="1" height="1" fill="#a9b1ed"/><rect x="4" y="2" width="1" height="1" fill="#2f368b"/><rect x="5" y="2" width="1" height="1" fill="#a9b1ed"/><rect x="6" y="2" width="1" height="1" fill="#2f368b"/><rect x="7" y="2" width="1" height="1" fill="#a9b1ed"/><rect x="8" y="2" width="1" height="1" fill="#2f368b"/><rect x="1" y="3" width="1" height="1" fill="#2a3181"/><rect x="2" y="3" width="1" height="1" fill="#a2aae8"/><rect x="3" y="3" width="1" height="1" fill="#2a3181"/><rect x="4" y="3" width="1" height="1" fill="#a2aae8"/><rect x="5" y="3" width="1" height="1" fill="#2a3181"/><rect x="6" y="3" width="1" height="1" fill="#a2aae8"/><rect x="7" y="3" width="1" height="1" fill="#2a3181"/><rect x="8" y="3" width="1" height="1" fill="#a2aae8"/><rect x="1" y="4" width="1" height="1" fill="#9ba3e3"/><rect x="2" y="4" width="1" height="1" fill="#252b78"/><rect x="3" y="4" width="1" height="1" fill="#9ba3e3"/><rect x="4" y="4" width="1" height="1" fill="#252b78"/><rect x="5" y="4" width="1" height="1" fill="#9ba3e3"/><rect x="6" y="4" width="1" height="1" fill="#252b78"/><rect x="7" y="4" width="1" height="1" fill="#9ba3e3"/><rect x="8" y="4" width="1" height="1" fill="#252b78"/><rect x="1" y="5" width="1" height="1" fill="#20256f"/><rect x="2" y="5" width="1" height="1" fill="#949cde"/><rect x="3" y="5" width="1" height="1" fill="#20256f"/><rect x="4" y="5" width="1" height="1" fill="#949cde"/><rect x="5" y="5" width="1" height="1" fill="#20256f"/><rect x="6" y="5" width="1" height="1" fill="#949cde"/><rect x="7" y="5" width="1" height="1" fill="#20256f"/><rect x="8" y="5" width="1" height="1" fill="#949cde"/><rect x="1" y="6" width="1" height="1" fill="#8d95d9"/><rect x="2" y="6" width="1" height="1" fill="#1b2065"/><rect x="3" y="6" width="1" height="1" fill="#8d95d9"/><rect x="4" y="6" width="1" height="1" fill="#1b2065"/><rect x="5" y="6" width="1" height="1" fill="#8d95d9"/><rect x="6" y="6" width="1" height="1" fill="#1b2065"/><rect x="7" y="6" width="1" height="1" fill="#8d95d9"/><rect x="8" y="6" width="1" height="1" fill="#1b2065"/><rect x="1" y="7" width="1" height="1" fill="#161a5c"/><rect x="2" y="7" width="1" height="1" fill="#868ed4"/><rect x="3" y="7" width="1" height="1" fill="#161a5c"/><rect x="4" y="7" width="1" height="1" fill="#868ed4"/><rect x="5" y="7" width="1" height="1" fill="#161a5c"/><rect x="6" y="7" width="1" height="1" fill="#868ed4"/><rect x="7" y="7" width="1" height="1" fill="#161a5c"/><rect x="8" y="7" width="1" height="1" fill="#868ed4"/></svg></div>
<div class="a t b" style="left:-1px;width:332px;text-align:center;top:383px">USA - 5 anni</div>
<div class="a t b" style="right:234px;text-align:right;top:383px">3.840%</div>
<div class="a t" style="right:47.5px;text-align:right;top:383px">3.879%</div>
<div class="a sep" style="left:2px;top:456px;width:679px;height:1px"></div>
<div class="a" style="left:1px;top:456px;width:1px;height:1px;background:#e6e6e6"></div>
<div class="a" style="top:427px;left:0"><svg class="fl" width="16" height="13" viewBox="0 0 16 13" shape-rendering="crispEdges"><rect x="0" y="1" width="1" height="11" fill="#efefef"/><rect x="15" y="1" width="1" height="11" fill="#ececec"/><rect x="1" y="0" width="14" height="1" fill="#f6f6f6"/><rect x="1" y="12" width="14" height="1" fill="#e2e2e2"/><rect x="1" y="1" width="14" height="1" fill="#a4505e"/><rect x="1" y="2" width="14" height="1" fill="#f3e6ec"/><rect x="1" y="3" width="14" height="1" fill="#a63c4c"/><rect x="1" y="4" width="14" height="1" fill="#f6eaef"/><rect x="1" y="5" width="14" height="1" fill="#a43446"/><rect x="1" y="6" width="14" height="1" fill="#f6eaef"/><rect x="1" y="7" width="14" height="1" fill="#962a3a"/><rect x="1" y="8" width="14" height="1" fill="#f8eef2"/><rect x="1" y="9" width="14" height="1" fill="#a42232"/><rect x="1" y="10" width="14" height="1" fill="#fbdde1"/><rect x="1" y="11" width="14" height="1" fill="#bf1e2a"/><rect x="1" y="1" width="1" height="1" fill="#343c94"/><rect x="2" y="1" width="1" height="1" fill="#b0b8f2"/><rect x="3" y="1" width="1" height="1" fill="#343c94"/><rect x="4" y="1" width="1" height="1" fill="#b0b8f2"/><rect x="5" y="1" width="1" height="1" fill="#343c94"/><rect x="6" y="1" width="1" height="1" fill="#b0b8f2"/><rect x="7" y="1" width="1" height="1" fill="#343c94"/><rect x="8" y="1" width="1" height="1" fill="#b0b8f2"/><rect x="1" y="2" width="1" height="1" fill="#a9b1ed"/><rect x="2" y="2" width="1" height="1" fill="#2f368b"/><rect x="3" y="2" width="1" height="1" fill="#a9b1ed"/><rect x="4" y="2" width="1" height="1" fill="#2f368b"/><rect x="5" y="2" width="1" height="1" fill="#a9b1ed"/><rect x="6" y="2" width="1" height="1" fill="#2f368b"/><rect x="7" y="2" width="1" height="1" fill="#a9b1ed"/><rect x="8" y="2" width="1" height="1" fill="#2f368b"/><rect x="1" y="3" width="1" height="1" fill="#2a3181"/><rect x="2" y="3" width="1" height="1" fill="#a2aae8"/><rect x="3" y="3" width="1" height="1" fill="#2a3181"/><rect x="4" y="3" width="1" height="1" fill="#a2aae8"/><rect x="5" y="3" width="1" height="1" fill="#2a3181"/><rect x="6" y="3" width="1" height="1" fill="#a2aae8"/><rect x="7" y="3" width="1" height="1" fill="#2a3181"/><rect x="8" y="3" width="1" height="1" fill="#a2aae8"/><rect x="1" y="4" width="1" height="1" fill="#9ba3e3"/><rect x="2" y="4" width="1" height="1" fill="#252b78"/><rect x="3" y="4" width="1" height="1" fill="#9ba3e3"/><rect x="4" y="4" width="1" height="1" fill="#252b78"/><rect x="5" y="4" width="1" height="1" fill="#9ba3e3"/><rect x="6" y="4" width="1" height="1" fill="#252b78"/><rect x="7" y="4" width="1" height="1" fill="#9ba3e3"/><rect x="8" y="4" width="1" height="1" fill="#252b78"/><rect x="1" y="5" width="1" height="1" fill="#20256f"/><rect x="2" y="5" width="1" height="1" fill="#949cde"/><rect x="3" y="5" width="1" height="1" fill="#20256f"/><rect x="4" y="5" width="1" height="1" fill="#949cde"/><rect x="5" y="5" width="1" height="1" fill="#20256f"/><rect x="6" y="5" width="1" height="1" fill="#949cde"/><rect x="7" y="5" width="1" height="1" fill="#20256f"/><rect x="8" y="5" width="1" height="1" fill="#949cde"/><rect x="1" y="6" width="1" height="1" fill="#8d95d9"/><rect x="2" y="6" width="1" height="1" fill="#1b2065"/><rect x="3" y="6" width="1" height="1" fill="#8d95d9"/><rect x="4" y="6" width="1" height="1" fill="#1b2065"/><rect x="5" y="6" width="1" height="1" fill="#8d95d9"/><rect x="6" y="6" width="1" height="1" fill="#1b2065"/><rect x="7" y="6" width="1" height="1" fill="#8d95d9"/><rect x="8" y="6" width="1" height="1" fill="#1b2065"/><rect x="1" y="7" width="1" height="1" fill="#161a5c"/><rect x="2" y="7" width="1" height="1" fill="#868ed4"/><rect x="3" y="7" width="1" height="1" fill="#161a5c"/><rect x="4" y="7" width="1" height="1" fill="#868ed4"/><rect x="5" y="7" width="1" height="1" fill="#161a5c"/><rect x="6" y="7" width="1" height="1" fill="#868ed4"/><rect x="7" y="7" width="1" height="1" fill="#161a5c"/><rect x="8" y="7" width="1" height="1" fill="#868ed4"/></svg></div>
<div class="a t b" style="left:-1px;width:332px;text-align:center;top:424px">USA - 7 anni</div>
<div class="a t b" style="right:234px;text-align:right;top:424px">3.872%</div>
<div class="a t" style="right:47.5px;text-align:right;top:424px">3.916%</div>
<div class="a sep" style="left:2px;top:497px;width:679px;height:1px"></div>
<div class="a" style="left:1px;top:497px;width:1px;height:1px;background:#e6e6e6"></div>
<div class="a" style="top:467px;left:0"><svg class="fl" width="16" height="13" viewBox="0 0 16 13" shape-rendering="crispEdges"><rect x="0" y="1" width="1" height="11" fill="#efefef"/><rect x="15" y="1" width="1" height="11" fill="#ececec"/><rect x="1" y="0" width="14" height="1" fill="#f6f6f6"/><rect x="1" y="12" width="14" height="1" fill="#e2e2e2"/><rect x="1" y="1" width="14" height="1" fill="#a4505e"/><rect x="1" y="2" width="14" height="1" fill="#f3e6ec"/><rect x="1" y="3" width="14" height="1" fill="#a63c4c"/><rect x="1" y="4" width="14" height="1" fill="#f6eaef"/><rect x="1" y="5" width="14" height="1" fill="#a43446"/><rect x="1" y="6" width="14" height="1" fill="#f6eaef"/><rect x="1" y="7" width="14" height="1" fill="#962a3a"/><rect x="1" y="8" width="14" height="1" fill="#f8eef2"/><rect x="1" y="9" width="14" height="1" fill="#a42232"/><rect x="1" y="10" width="14" height="1" fill="#fbdde1"/><rect x="1" y="11" width="14" height="1" fill="#bf1e2a"/><rect x="1" y="1" width="1" height="1" fill="#343c94"/><rect x="2" y="1" width="1" height="1" fill="#b0b8f2"/><rect x="3" y="1" width="1" height="1" fill="#343c94"/><rect x="4" y="1" width="1" height="1" fill="#b0b8f2"/><rect x="5" y="1" width="1" height="1" fill="#343c94"/><rect x="6" y="1" width="1" height="1" fill="#b0b8f2"/><rect x="7" y="1" width="1" height="1" fill="#343c94"/><rect x="8" y="1" width="1" height="1" fill="#b0b8f2"/><rect x="1" y="2" width="1" height="1" fill="#a9b1ed"/><rect x="2" y="2" width="1" height="1" fill="#2f368b"/><rect x="3" y="2" width="1" height="1" fill="#a9b1ed"/><rect x="4" y="2" width="1" height="1" fill="#2f368b"/><rect x="5" y="2" width="1" height="1" fill="#a9b1ed"/><rect x="6" y="2" width="1" height="1" fill="#2f368b"/><rect x="7" y="2" width="1" height="1" fill="#a9b1ed"/><rect x="8" y="2" width="1" height="1" fill="#2f368b"/><rect x="1" y="3" width="1" height="1" fill="#2a3181"/><rect x="2" y="3" width="1" height="1" fill="#a2aae8"/><rect x="3" y="3" width="1" height="1" fill="#2a3181"/><rect x="4" y="3" width="1" height="1" fill="#a2aae8"/><rect x="5" y="3" width="1" height="1" fill="#2a3181"/><rect x="6" y="3" width="1" height="1" fill="#a2aae8"/><rect x="7" y="3" width="1" height="1" fill="#2a3181"/><rect x="8" y="3" width="1" height="1" fill="#a2aae8"/><rect x="1" y="4" width="1" height="1" fill="#9ba3e3"/><rect x="2" y="4" width="1" height="1" fill="#252b78"/><rect x="3" y="4" width="1" height="1" fill="#9ba3e3"/><rect x="4" y="4" width="1" height="1" fill="#252b78"/><rect x="5" y="4" width="1" height="1" fill="#9ba3e3"/><rect x="6" y="4" width="1" height="1" fill="#252b78"/><rect x="7" y="4" width="1" height="1" fill="#9ba3e3"/><rect x="8" y="4" width="1" height="1" fill="#252b78"/><rect x="1" y="5" width="1" height="1" fill="#20256f"/><rect x="2" y="5" width="1" height="1" fill="#949cde"/><rect x="3" y="5" width="1" height="1" fill="#20256f"/><rect x="4" y="5" width="1" height="1" fill="#949cde"/><rect x="5" y="5" width="1" height="1" fill="#20256f"/><rect x="6" y="5" width="1" height="1" fill="#949cde"/><rect x="7" y="5" width="1" height="1" fill="#20256f"/><rect x="8" y="5" width="1" height="1" fill="#949cde"/><rect x="1" y="6" width="1" height="1" fill="#8d95d9"/><rect x="2" y="6" width="1" height="1" fill="#1b2065"/><rect x="3" y="6" width="1" height="1" fill="#8d95d9"/><rect x="4" y="6" width="1" height="1" fill="#1b2065"/><rect x="5" y="6" width="1" height="1" fill="#8d95d9"/><rect x="6" y="6" width="1" height="1" fill="#1b2065"/><rect x="7" y="6" width="1" height="1" fill="#8d95d9"/><rect x="8" y="6" width="1" height="1" fill="#1b2065"/><rect x="1" y="7" width="1" height="1" fill="#161a5c"/><rect x="2" y="7" width="1" height="1" fill="#868ed4"/><rect x="3" y="7" width="1" height="1" fill="#161a5c"/><rect x="4" y="7" width="1" height="1" fill="#868ed4"/><rect x="5" y="7" width="1" height="1" fill="#161a5c"/><rect x="6" y="7" width="1" height="1" fill="#868ed4"/><rect x="7" y="7" width="1" height="1" fill="#161a5c"/><rect x="8" y="7" width="1" height="1" fill="#868ed4"/></svg></div>
<div class="a t b" style="left:-1px;width:332px;text-align:center;top:464px">USA - 10 anni</div>
<div class="a t b" style="right:234px;text-align:right;top:464px">3.888%</div>
<div class="a t" style="right:47.5px;text-align:right;top:464px">3.896%</div>
<div class="a sep" style="left:2px;top:537px;width:679px;height:1px"></div>
<div class="a" style="left:1px;top:537px;width:1px;height:1px;background:#e6e6e6"></div>
<div class="a" style="top:508px;left:0"><svg class="fl" width="16" height="13" viewBox="0 0 16 13" shape-rendering="crispEdges"><rect x="0" y="1" width="1" height="11" fill="#efefef"/><rect x="15" y="1" width="1" height="11" fill="#ececec"/><rect x="1" y="0" width="14" height="1" fill="#f6f6f6"/><rect x="1" y="12" width="14" height="1" fill="#e2e2e2"/><rect x="1" y="1" width="14" height="1" fill="#a4505e"/><rect x="1" y="2" width="14" height="1" fill="#f3e6ec"/><rect x="1" y="3" width="14" height="1" fill="#a63c4c"/><rect x="1" y="4" width="14" height="1" fill="#f6eaef"/><rect x="1" y="5" width="14" height="1" fill="#a43446"/><rect x="1" y="6" width="14" height="1" fill="#f6eaef"/><rect x="1" y="7" width="14" height="1" fill="#962a3a"/><rect x="1" y="8" width="14" height="1" fill="#f8eef2"/><rect x="1" y="9" width="14" height="1" fill="#a42232"/><rect x="1" y="10" width="14" height="1" fill="#fbdde1"/><rect x="1" y="11" width="14" height="1" fill="#bf1e2a"/><rect x="1" y="1" width="1" height="1" fill="#343c94"/><rect x="2" y="1" width="1" height="1" fill="#b0b8f2"/><rect x="3" y="1" width="1" height="1" fill="#343c94"/><rect x="4" y="1" width="1" height="1" fill="#b0b8f2"/><rect x="5" y="1" width="1" height="1" fill="#343c94"/><rect x="6" y="1" width="1" height="1" fill="#b0b8f2"/><rect x="7" y="1" width="1" height="1" fill="#343c94"/><rect x="8" y="1" width="1" height="1" fill="#b0b8f2"/><rect x="1" y="2" width="1" height="1" fill="#a9b1ed"/><rect x="2" y="2" width="1" height="1" fill="#2f368b"/><rect x="3" y="2" width="1" height="1" fill="#a9b1ed"/><rect x="4" y="2" width="1" height="1" fill="#2f368b"/><rect x="5" y="2" width="1" height="1" fill="#a9b1ed"/><rect x="6" y="2" width="1" height="1" fill="#2f368b"/><rect x="7" y="2" width="1" height="1" fill="#a9b1ed"/><rect x="8" y="2" width="1" height="1" fill="#2f368b"/><rect x="1" y="3" width="1" height="1" fill="#2a3181"/><rect x="2" y="3" width="1" height="1" fill="#a2aae8"/><rect x="3" y="3" width="1" height="1" fill="#2a3181"/><rect x="4" y="3" width="1" height="1" fill="#a2aae8"/><rect x="5" y="3" width="1" height="1" fill="#2a3181"/><rect x="6" y="3" width="1" height="1" fill="#a2aae8"/><rect x="7" y="3" width="1" height="1" fill="#2a3181"/><rect x="8" y="3" width="1" height="1" fill="#a2aae8"/><rect x="1" y="4" width="1" height="1" fill="#9ba3e3"/><rect x="2" y="4" width="1" height="1" fill="#252b78"/><rect x="3" y="4" width="1" height="1" fill="#9ba3e3"/><rect x="4" y="4" width="1" height="1" fill="#252b78"/><rect x="5" y="4" width="1" height="1" fill="#9ba3e3"/><rect x="6" y="4" width="1" height="1" fill="#252b78"/><rect x="7" y="4" width="1" height="1" fill="#9ba3e3"/><rect x="8" y="4" width="1" height="1" fill="#252b78"/><rect x="1" y="5" width="1" height="1" fill="#20256f"/><rect x="2" y="5" width="1" height="1" fill="#949cde"/><rect x="3" y="5" width="1" height="1" fill="#20256f"/><rect x="4" y="5" width="1" height="1" fill="#949cde"/><rect x="5" y="5" width="1" height="1" fill="#20256f"/><rect x="6" y="5" width="1" height="1" fill="#949cde"/><rect x="7" y="5" width="1" height="1" fill="#20256f"/><rect x="8" y="5" width="1" height="1" fill="#949cde"/><rect x="1" y="6" width="1" height="1" fill="#8d95d9"/><rect x="2" y="6" width="1" height="1" fill="#1b2065"/><rect x="3" y="6" width="1" height="1" fill="#8d95d9"/><rect x="4" y="6" width="1" height="1" fill="#1b2065"/><rect x="5" y="6" width="1" height="1" fill="#8d95d9"/><rect x="6" y="6" width="1" height="1" fill="#1b2065"/><rect x="7" y="6" width="1" height="1" fill="#8d95d9"/><rect x="8" y="6" width="1" height="1" fill="#1b2065"/><rect x="1" y="7" width="1" height="1" fill="#161a5c"/><rect x="2" y="7" width="1" height="1" fill="#868ed4"/><rect x="3" y="7" width="1" height="1" fill="#161a5c"/><rect x="4" y="7" width="1" height="1" fill="#868ed4"/><rect x="5" y="7" width="1" height="1" fill="#161a5c"/><rect x="6" y="7" width="1" height="1" fill="#868ed4"/><rect x="7" y="7" width="1" height="1" fill="#161a5c"/><rect x="8" y="7" width="1" height="1" fill="#868ed4"/></svg></div>
<div class="a t b" style="left:-1px;width:332px;text-align:center;top:505px">USA - 20 anni</div>
<div class="a t b" style="right:234px;text-align:right;top:505px">4.182%</div>
<div class="a t" style="right:47.5px;text-align:right;top:505px">4.217%</div>
<div class="a sep" style="left:1px;top:578px;width:680px;height:1px"></div>
<div class="a" style="top:548px;left:0"><svg class="fl" width="16" height="13" viewBox="0 0 16 13" shape-rendering="crispEdges"><rect x="0" y="1" width="1" height="11" fill="#efefef"/><rect x="15" y="1" width="1" height="11" fill="#ececec"/><rect x="1" y="0" width="14" height="1" fill="#f6f6f6"/><rect x="1" y="12" width="14" height="1" fill="#e2e2e2"/><rect x="1" y="1" width="14" height="1" fill="#a4505e"/><rect x="1" y="2" width="14" height="1" fill="#f3e6ec"/><rect x="1" y="3" width="14" height="1" fill="#a63c4c"/><rect x="1" y="4" width="14" height="1" fill="#f6eaef"/><rect x="1" y="5" width="14" height="1" fill="#a43446"/><rect x="1" y="6" width="14" height="1" fill="#f6eaef"/><rect x="1" y="7" width="14" height="1" fill="#962a3a"/><rect x="1" y="8" width="14" height="1" fill="#f8eef2"/><rect x="1" y="9" width="14" height="1" fill="#a42232"/><rect x="1" y="10" width="14" height="1" fill="#fbdde1"/><rect x="1" y="11" width="14" height="1" fill="#bf1e2a"/><rect x="1" y="1" width="1" height="1" fill="#343c94"/><rect x="2" y="1" width="1" height="1" fill="#b0b8f2"/><rect x="3" y="1" width="1" height="1" fill="#343c94"/><rect x="4" y="1" width="1" height="1" fill="#b0b8f2"/><rect x="5" y="1" width="1" height="1" fill="#343c94"/><rect x="6" y="1" width="1" height="1" fill="#b0b8f2"/><rect x="7" y="1" width="1" height="1" fill="#343c94"/><rect x="8" y="1" width="1" height="1" fill="#b0b8f2"/><rect x="1" y="2" width="1" height="1" fill="#a9b1ed"/><rect x="2" y="2" width="1" height="1" fill="#2f368b"/><rect x="3" y="2" width="1" height="1" fill="#a9b1ed"/><rect x="4" y="2" width="1" height="1" fill="#2f368b"/><rect x="5" y="2" width="1" height="1" fill="#a9b1ed"/><rect x="6" y="2" width="1" height="1" fill="#2f368b"/><rect x="7" y="2" width="1" height="1" fill="#a9b1ed"/><rect x="8" y="2" width="1" height="1" fill="#2f368b"/><rect x="1" y="3" width="1" height="1" fill="#2a3181"/><rect x="2" y="3" width="1" height="1" fill="#a2aae8"/><rect x="3" y="3" width="1" height="1" fill="#2a3181"/><rect x="4" y="3" width="1" height="1" fill="#a2aae8"/><rect x="5" y="3" width="1" height="1" fill="#2a3181"/><rect x="6" y="3" width="1" height="1" fill="#a2aae8"/><rect x="7" y="3" width="1" height="1" fill="#2a3181"/><rect x="8" y="3" width="1" height="1" fill="#a2aae8"/><rect x="1" y="4" width="1" height="1" fill="#9ba3e3"/><rect x="2" y="4" width="1" height="1" fill="#252b78"/><rect x="3" y="4" width="1" height="1" fill="#9ba3e3"/><rect x="4" y="4" width="1" height="1" fill="#252b78"/><rect x="5" y="4" width="1" height="1" fill="#9ba3e3"/><rect x="6" y="4" width="1" height="1" fill="#252b78"/><rect x="7" y="4" width="1" height="1" fill="#9ba3e3"/><rect x="8" y="4" width="1" height="1" fill="#252b78"/><rect x="1" y="5" width="1" height="1" fill="#20256f"/><rect x="2" y="5" width="1" height="1" fill="#949cde"/><rect x="3" y="5" width="1" height="1" fill="#20256f"/><rect x="4" y="5" width="1" height="1" fill="#949cde"/><rect x="5" y="5" width="1" height="1" fill="#20256f"/><rect x="6" y="5" width="1" height="1" fill="#949cde"/><rect x="7" y="5" width="1" height="1" fill="#20256f"/><rect x="8" y="5" width="1" height="1" fill="#949cde"/><rect x="1" y="6" width="1" height="1" fill="#8d95d9"/><rect x="2" y="6" width="1" height="1" fill="#1b2065"/><rect x="3" y="6" width="1" height="1" fill="#8d95d9"/><rect x="4" y="6" width="1" height="1" fill="#1b2065"/><rect x="5" y="6" width="1" height="1" fill="#8d95d9"/><rect x="6" y="6" width="1" height="1" fill="#1b2065"/><rect x="7" y="6" width="1" height="1" fill="#8d95d9"/><rect x="8" y="6" width="1" height="1" fill="#1b2065"/><rect x="1" y="7" width="1" height="1" fill="#161a5c"/><rect x="2" y="7" width="1" height="1" fill="#868ed4"/><rect x="3" y="7" width="1" height="1" fill="#161a5c"/><rect x="4" y="7" width="1" height="1" fill="#868ed4"/><rect x="5" y="7" width="1" height="1" fill="#161a5c"/><rect x="6" y="7" width="1" height="1" fill="#868ed4"/><rect x="7" y="7" width="1" height="1" fill="#161a5c"/><rect x="8" y="7" width="1" height="1" fill="#868ed4"/></svg></div>
<div class="a t b" style="left:-1px;width:332px;text-align:center;top:545px">USA - 30 anni</div>
<div class="a t b" style="right:234px;text-align:right;top:545px">4.019%</div>
<div class="a t" style="right:47.5px;text-align:right;top:545px">4.054%</div>
</body></html>
